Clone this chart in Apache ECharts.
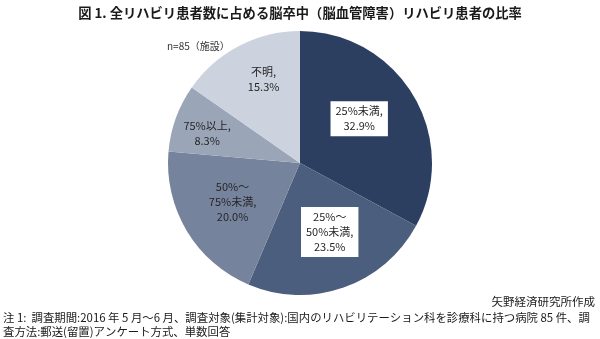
<!DOCTYPE html>
<html>
<head>
<meta charset="utf-8">
<script src="https://cdn.jsdelivr.net/npm/echarts@6/dist/echarts.min.js"></script>
<style>
  html, body { margin: 0; padding: 0; background: #ffffff; }
  #chart { width: 600px; height: 339px; }
</style>
</head>
<body>
<div id="chart"></div>
<script>
// Share of stroke (cerebrovascular) rehab patients among all rehab patients
const categories = ['25%未満', '25%～\n50%未満', '50%～\n75%未満', '75%以上', '不明'];
const shares = [32.9, 23.5, 20.0, 8.3, 15.3];
const sampleNote = 'n=85（施設）';
const titleText = '図 1. 全リハビリ患者数に占める脳卒中（脳血管障害）リハビリ患者の比率';
const sourceText = '矢野経済研究所作成';
const noteLines = [
  '注 1:  調査期間:2016 年 5 月～6 月、調査対象(集計対象):国内のリハビリテーション科を診療科に持つ病院 85 件、調',
  '査方法:郵送(留置)アンケート方式、単数回答'
];

// Styling
const sliceColors = ['#2c3f60', '#4b5e7e', '#76839d', '#9ba5b8', '#cdd3de'];
const boxedLabels = [true, true, false, false, false];
const labelRadius = [0.56, 0.57, 0.59, 0.74, 0.69];   // fraction of pie radius
const labelTurn = [-6, -4, 1, -2, 4];                  // degrees, relative to slice middle
const CX = 300, CY = 163, R = 132;
const FONT = '"Noto Sans CJK JP", "Noto Sans", sans-serif';

const total = shares.reduce((a, b) => a + b, 0);
const midAngles = [];
let acc = 0;
shares.forEach(v => { midAngles.push((acc + v / 2) / total * 360); acc += v; });

const chart = echarts.init(document.getElementById('chart'), null, { renderer: 'canvas' });

chart.setOption({
  backgroundColor: '#ffffff',
  animation: false,
  graphic: [
    { type: 'text', left: 'center', top: 6,
      style: { text: titleText, font: 'bold 13.3px ' + FONT, fill: '#1a1a1a' } },
    { type: 'text', left: 167, top: 41,
      style: { text: sampleNote, font: '10px ' + FONT, fill: '#333333' } },
    { type: 'text', right: 5, top: 296,
      style: { text: sourceText, font: '11.5px ' + FONT, fill: '#1a1a1a' } },
    { type: 'text', left: 3, top: 311,
      style: { text: noteLines.join('\n'), font: '11.4px ' + FONT, lineHeight: 13.5, fill: '#1a1a1a' } }
  ],
  series: [{
    type: 'pie',
    center: [CX, CY],
    radius: [0, R],
    startAngle: 90,
    clockwise: true,
    avoidLabelOverlap: false,
    data: categories.map((name, i) => ({
      name: name,
      value: shares[i],
      itemStyle: { color: sliceColors[i] },
      label: boxedLabels[i]
        ? { backgroundColor: '#ffffff', padding: [3, 5, 2, 5] }
        : {}
    })),
    label: {
      show: true,
      position: 'inside',
      formatter: p => p.name + ',\n' + p.value.toFixed(1) + '%',
      fontFamily: FONT,
      fontSize: 11,
      lineHeight: 15,
      color: '#262626',
      align: 'center'
    },
    labelLine: { show: false },
    emphasis: { disabled: true }
  }]
});

// Place each label along its slice direction, at a per-slice distance from the centre
chart.setOption({
  series: [{
    labelLayout: params => {
      const i = params.dataIndex;
      const a = (midAngles[i] + labelTurn[i]) * Math.PI / 180;
      const r = R * labelRadius[i];
      return {
        x: CX + r * Math.sin(a),
        y: CY - r * Math.cos(a),
        align: 'center',
        verticalAlign: 'middle'
      };
    }
  }]
});
</script>
</body>
</html>
